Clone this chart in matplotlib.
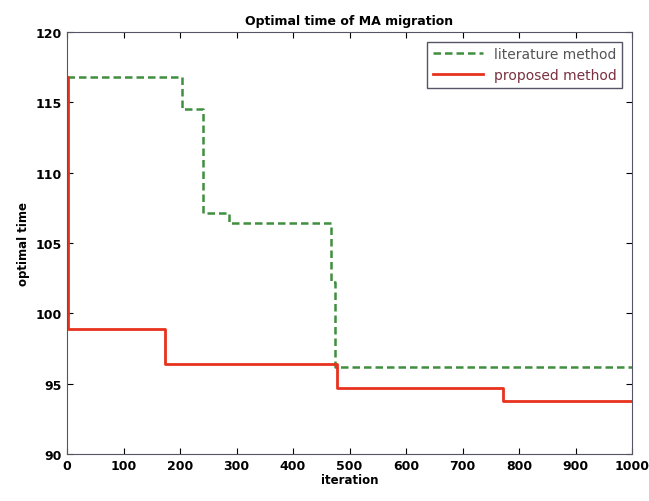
import matplotlib
matplotlib.use("Agg")
import matplotlib.pyplot as plt

# step data (iteration where value starts, value)
lit_x = [0, 203, 241, 287, 467, 474, 1000]
lit_y = [116.8, 114.5, 107.1, 106.4, 102.2, 96.2, 96.2]

prop_x = [0, 1, 2, 173, 478, 772, 1000]
prop_y = [116.8, 103.5, 98.9, 96.4, 94.7, 93.8, 93.8]

fig = plt.figure(figsize=(6.49, 5.02), dpi=100)
ax = fig.add_axes([67/649, 1 - 455/502, 565/649, 422/502])

ax.plot(lit_x, lit_y, drawstyle='steps-post', color='#3f8f3f', linestyle=(0, (3, 1.6)),
        linewidth=1.8, label='literature method')
ax.plot(prop_x, prop_y, drawstyle='steps-post', color='#e8321e', linestyle='-',
        linewidth=2.0, label='proposed method')

ax.set_xlim(0, 1000)
ax.set_ylim(90, 120)
ax.set_xticks(range(0, 1001, 100))
ax.set_yticks(range(90, 121, 5))
ax.tick_params(direction='in', top=True, right=True, labelsize=9, length=4)
for lbl in ax.get_xticklabels() + ax.get_yticklabels():
    lbl.set_fontweight('bold')
for s in ax.spines.values():
    s.set_color('#555566')

ax.set_title('Optimal time of MA migration', fontsize=9, fontweight='bold')
ax.set_xlabel('iteration', fontsize=8.5, fontweight='bold', labelpad=1)
ax.set_ylabel('optimal time', fontsize=8.5, fontweight='bold', labelpad=4)

leg = ax.legend(loc='upper right', fontsize=10, fancybox=False, framealpha=1,
                edgecolor='#555566', handlelength=3.6, borderaxespad=0.7,
                labelspacing=0.5)
leg.get_texts()[0].set_color('#555555')
leg.get_texts()[1].set_color('#7a3040')

fig.savefig('out.png', dpi=100)
